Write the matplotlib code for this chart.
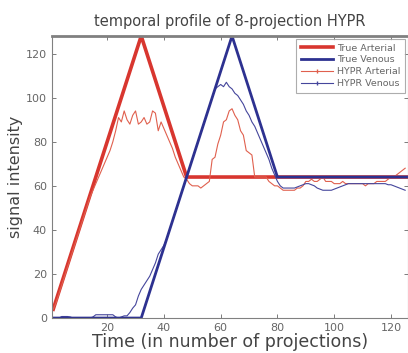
import numpy as np
import matplotlib
matplotlib.use('Agg')
import matplotlib.pyplot as plt
from matplotlib.lines import Line2D

# true profiles (break points)
true_art_x = [1, 32, 48, 126]
true_art_y = [4, 128, 64, 64]
true_ven_x = [1, 32, 64, 80, 126]
true_ven_y = [0, 0, 128, 64, 64]

# HYPR reconstructions, one value per projection
t = np.arange(1, 126)
hypr_art = [4, 7, 11, 15, 19, 23, 27, 31, 35, 39,
            43, 47, 51, 55, 58, 61, 64, 67, 70, 73,
            76, 80, 85, 91, 89, 94, 90, 88, 92, 94,
            88, 89, 91, 88, 89, 94, 93, 85, 89, 86,
            83, 80, 77, 73, 70, 67, 64, 63, 61, 60,
            60, 60, 59, 60, 61, 62, 72, 73, 79, 83,
            89, 90, 94, 95, 92, 90, 85, 83, 76, 75,
            74, 64, 64, 64, 64, 64, 62, 61, 60, 60,
            59, 58, 58, 58, 58, 58, 59, 59, 60, 62,
            62, 63, 62, 62, 63, 64, 62, 62, 62, 61,
            61, 61, 62, 61, 61, 61, 61, 61, 61, 61,
            60, 61, 61, 61, 62, 62, 62, 62, 63, 64,
            64, 65, 66, 67, 68]
hypr_ven = [0, 0, 0, 0.7, 0.7, 0.7, 0.5, 0, 0, 0,
            0, 0, 0, 0, 0.5, 1.5, 1.5, 1.5, 1.5, 1.5,
            1.5, 1.5, 0.5, 0, 0.5, 1, 1, 2.5, 4.5, 6,
            10, 13, 15, 17, 19, 22, 25, 29, 31, 33,
            36, 40, 44, 48, 52, 56, 60, 64, 68, 72,
            76, 80, 84, 88, 92, 96, 100, 104, 105, 106,
            105, 107, 105, 104, 102, 101, 99, 97, 94, 92,
            89, 87, 84, 81, 78, 75, 72, 68, 65, 62,
            60, 59, 59, 59, 59, 59, 59.5, 60, 60.5, 61,
            61, 60.5, 60, 59, 58.5, 58, 58, 58, 58, 58.5,
            59, 59.5, 60, 60.5, 61, 61, 61, 61, 61, 61,
            61, 61, 61, 61, 61, 61, 61, 61, 60.5, 60.5,
            60, 59.5, 59, 58.5, 58]

red = '#d8362f'
navy = '#2d3190'
red_thin = '#e0604e'
navy_thin = '#45469c'

fig = plt.figure(figsize=(4.08, 3.53), dpi=100)
ax = fig.add_axes([0.127, 0.099, 0.873, 0.799])

ax.plot(true_art_x, true_art_y, color=red, linewidth=2.6)
ax.plot(t, hypr_art, color=red_thin, linewidth=0.8)
ax.plot(t, hypr_ven, color=navy_thin, linewidth=0.8)
ax.plot(true_ven_x, true_ven_y, color=navy, linewidth=2.0)

ax.set_xlim(0.5, 126)
ax.set_ylim(0, 128)
ax.set_xticks([20, 40, 60, 80, 100, 120])
ax.set_yticks([0, 20, 40, 60, 80, 100, 120])
ax.tick_params(direction='in', length=3, labelsize=8, colors='#666666',
               top=True, right=True, width=0.6)
for s in ax.spines.values():
    s.set_color('#808080')
    s.set_linewidth(0.8)
ax.spines['top'].set_linewidth(2.0)

ax.set_title('temporal profile of 8-projection HYPR', fontsize=10.5,
             color='#444444', pad=7)
ax.set_xlabel('Time (in number of projections)', fontsize=12.5,
              color='#444444', labelpad=0)
ax.set_ylabel('signal intensity', fontsize=11.5, color='#444444', labelpad=2)

handles = [Line2D([], [], color=red, linewidth=2.6),
           Line2D([], [], color=navy, linewidth=2.0),
           Line2D([], [], color=red_thin, linewidth=0.8, marker='|', markersize=3),
           Line2D([], [], color=navy_thin, linewidth=0.8, marker='|', markersize=3)]
leg = ax.legend(handles, ['True Arterial', 'True Venous', 'HYPR Arterial', 'HYPR Venous'],
                loc='upper right', fontsize=6.8, frameon=True, fancybox=False,
                borderaxespad=0.3, handlelength=3.4, handletextpad=0.4,
                labelspacing=0.3, borderpad=0.5)
leg.get_frame().set_edgecolor('#999999')
leg.get_frame().set_linewidth(0.8)
for txt in leg.get_texts():
    txt.set_color('#666666')

fig.savefig('out.png', dpi=100)
